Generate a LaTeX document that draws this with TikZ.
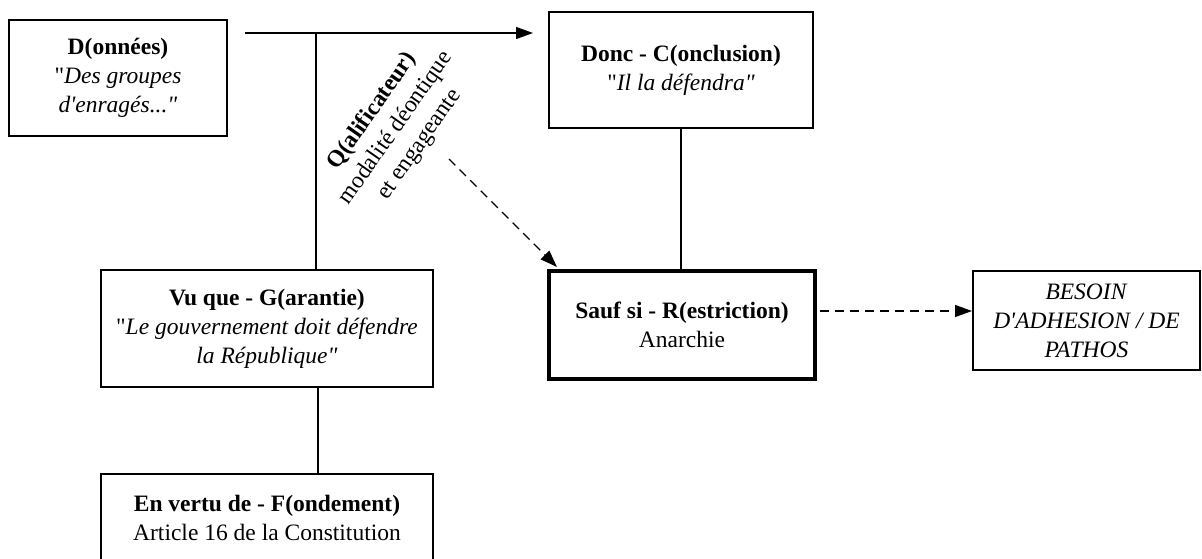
\documentclass[tikz,border=0pt]{standalone}
\usepackage{fontspec}
\setmainfont{Liberation Serif}[Ligatures=TeXOff]
\usetikzlibrary{arrows.meta}
\begin{document}
\begin{tikzpicture}[x=1pt,y=-1pt,
  box/.style={draw, line width=1.3pt, align=center, inner sep=0pt,
    font=\fontsize{23.5}{29}\selectfont},
  link/.style={line width=1.4pt},
  tip/.style={-{Triangle[length=17pt,width=12pt]}},
  dashlink/.style={line width=1.4pt, dash pattern=on 9pt off 6pt}]
\useasboundingbox (0,0) rectangle (1202,559);
\clip (0,0) rectangle (1202,559);

% argument boxes
\node[box, minimum width=218pt, minimum height=116pt] (D) at (118,78)
  {\textbf{D(onnées)}\\"\textit{Des groupes}\\\textit{d'enragés..."}};
\node[box, minimum width=264pt, minimum height=116pt] (C) at (681,70)
  {\textbf{Donc - C(onclusion)}\\"\textit{Il la défendra"}};
\node[box, minimum width=332pt, minimum height=117pt] (G) at (267,328.5)
  {\textbf{Vu que - G(arantie)}\\"\textit{Le gouvernement doit défendre}\\\textit{la République"}};
\node[box, minimum width=332pt, minimum height=88pt] (F) at (267,518)
  {\textbf{En vertu de - F(ondement)}\\Article 16 de la Constitution};
\node[box, line width=4.5pt, minimum width=266pt, minimum height=108pt] (R) at (682,325)
  {\textbf{Sauf si - R(estriction)}\\Anarchie};
\node[box, minimum width=227pt, minimum height=99pt] (B) at (1086.5,320.5)
  {\textit{BESOIN}\\\textit{D'ADHESION / DE}\\\textit{PATHOS}};

% qualifier label
\node[align=center, rotate=55, font=\fontsize{23.5}{29}\selectfont] (Q) at (396,128)
  {\textbf{Q(alificateur)}\\modalité déontique\\et engageante};

% connector end points
\coordinate (ds) at (245,33);
\coordinate (ce) at (533,33);
\coordinate (qv) at (316,33);
\coordinate (gf) at (318,387);
\coordinate (qs) at (449,159);
\coordinate (re) at (557,267);
\coordinate (rs) at (820,311);
\coordinate (be) at (972,311);

% connectors
\draw[link, tip] (ds) -- (ce);
\draw[link] (qv) -- (qv |- G.north);
\draw[link] (C.south) -- (C.south |- R.north);
\draw[link] (gf) -- (gf |- F.north);
\draw[dashlink, tip] (qs) -- (re);
\draw[dashlink, tip] (rs) -- (be);
\end{tikzpicture}
\end{document}
